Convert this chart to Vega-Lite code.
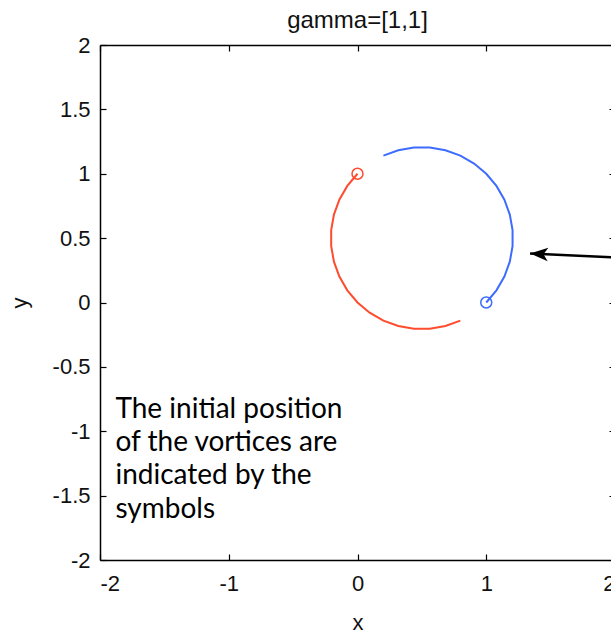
{
  "$schema": "https://vega.github.io/schema/vega-lite/v6.json",
  "width": 515,
  "height": 515,
  "autosize": {"type": "none"},
  "padding": {"left": 100, "top": 45, "right": 0, "bottom": 73},
  "background": "white",
  "title": {"text": "gamma=[1,1]", "font": "Liberation Sans", "fontSize": 24, "fontWeight": "normal", "color": "#111", "offset": 1},
  "config": {
    "view": {"stroke": null},
    "axis": {"domainColor": "#000", "domainWidth": 1.5, "tickColor": "#000", "tickWidth": 1.2, "grid": false, "labelFont": "Liberation Sans", "labelFontSize": 22, "labelColor": "#111", "titleFont": "Liberation Sans", "titleFontSize": 22, "titleFontWeight": "normal", "titleColor": "#111"}
  },
  "datasets": {
    "paths": [
      {"s": "red", "i": 0, "x": 0.0, "y": 1.0},
      {"s": "red", "i": 1, "x": -0.0792, "y": 0.9056},
      {"s": "red", "i": 2, "x": -0.1409, "y": 0.7988},
      {"s": "red", "i": 3, "x": -0.183, "y": 0.683},
      {"s": "red", "i": 4, "x": -0.2044, "y": 0.5617},
      {"s": "red", "i": 5, "x": -0.2044, "y": 0.4383},
      {"s": "red", "i": 6, "x": -0.183, "y": 0.317},
      {"s": "red", "i": 7, "x": -0.1409, "y": 0.2012},
      {"s": "red", "i": 8, "x": -0.0792, "y": 0.0944},
      {"s": "red", "i": 9, "x": 0.0, "y": 0.0},
      {"s": "red", "i": 10, "x": 0.0944, "y": -0.0792},
      {"s": "red", "i": 11, "x": 0.2012, "y": -0.1409},
      {"s": "red", "i": 12, "x": 0.317, "y": -0.183},
      {"s": "red", "i": 13, "x": 0.4383, "y": -0.2044},
      {"s": "red", "i": 14, "x": 0.5617, "y": -0.2044},
      {"s": "red", "i": 15, "x": 0.683, "y": -0.183},
      {"s": "red", "i": 16, "x": 0.7988, "y": -0.1409},
      {"s": "blue", "i": 0, "x": 1.0, "y": 0.0},
      {"s": "blue", "i": 1, "x": 1.0792, "y": 0.0944},
      {"s": "blue", "i": 2, "x": 1.1409, "y": 0.2012},
      {"s": "blue", "i": 3, "x": 1.183, "y": 0.317},
      {"s": "blue", "i": 4, "x": 1.2044, "y": 0.4383},
      {"s": "blue", "i": 5, "x": 1.2044, "y": 0.5617},
      {"s": "blue", "i": 6, "x": 1.183, "y": 0.683},
      {"s": "blue", "i": 7, "x": 1.1409, "y": 0.7988},
      {"s": "blue", "i": 8, "x": 1.0792, "y": 0.9056},
      {"s": "blue", "i": 9, "x": 1.0, "y": 1.0},
      {"s": "blue", "i": 10, "x": 0.9056, "y": 1.0792},
      {"s": "blue", "i": 11, "x": 0.7988, "y": 1.1409},
      {"s": "blue", "i": 12, "x": 0.683, "y": 1.183},
      {"s": "blue", "i": 13, "x": 0.5617, "y": 1.2044},
      {"s": "blue", "i": 14, "x": 0.4383, "y": 1.2044},
      {"s": "blue", "i": 15, "x": 0.317, "y": 1.183},
      {"s": "blue", "i": 16, "x": 0.2012, "y": 1.1409}
    ],
    "starts": [
      {"s": "red", "x": 0.0, "y": 1.0},
      {"s": "blue", "x": 1.0, "y": 0.0}
    ],
    "arrow": [
      {"x": 1.34, "y": 0.381, "x2": 2.0, "y2": 0.35}
    ],
    "note": [
      {"x": -1.88, "y": -0.895, "label": "The initial position\nof the vortices are\nindicated by the\nsymbols"}
    ]
  },
  "layer": [
    {
      "data": {"name": "paths"},
      "mark": {"type": "line", "strokeWidth": 2},
      "encoding": {
        "x": {"field": "x", "type": "quantitative", "scale": {"domain": [-2, 2], "nice": false, "zero": false},
              "axis": {"orient": "bottom", "values": [-2, -1, 0, 1, 2], "tickSize": -6, "labelPadding": 19, "labelExpr": "'' + datum.value", "title": "x", "titlePadding": 18}},
        "y": {"field": "y", "type": "quantitative", "scale": {"domain": [-2, 2], "nice": false, "zero": false},
              "axis": {"orient": "left", "values": [-2, -1.5, -1, -0.5, 0, 0.5, 1, 1.5, 2], "tickSize": -6, "labelPadding": 16, "labelExpr": "'' + datum.value", "title": "y", "titlePadding": 21}},
        "color": {"field": "s", "type": "nominal", "scale": {"domain": ["red", "blue"], "range": ["#ff4b2e", "#3d6cff"]}, "legend": null},
        "detail": {"field": "s"},
        "order": {"field": "i", "type": "quantitative"}
      }
    },
    {
      "data": {"name": "starts"},
      "mark": {"type": "point", "shape": "circle", "filled": false, "size": 121, "strokeWidth": 1.5, "opacity": 1},
      "encoding": {
        "x": {"field": "x", "type": "quantitative", "axis": {"orient": "top", "values": [-2, -1, 0, 1, 2], "tickSize": -6, "labels": false, "title": null}},
        "y": {"field": "y", "type": "quantitative", "axis": {"orient": "right", "values": [-2, -1.5, -1, -0.5, 0, 0.5, 1, 1.5, 2], "tickSize": -6, "labels": false, "title": null}},
        "color": {"field": "s", "type": "nominal", "legend": null}
      }
    },
    {
      "data": {"name": "arrow"},
      "mark": {"type": "rule", "color": "#000", "strokeWidth": 2.5},
      "encoding": {
        "x": {"field": "x", "type": "quantitative", "axis": null},
        "y": {"field": "y", "type": "quantitative", "axis": null},
        "x2": {"field": "x2"},
        "y2": {"field": "y2"}
      }
    },
    {
      "data": {"name": "arrow"},
      "mark": {"type": "point", "shape": "M0,0 L2,-0.75 L1.5,0 L2,0.75 Z", "filled": true, "color": "#000", "size": 324, "angle": 3, "opacity": 1},
      "encoding": {
        "x": {"field": "x", "type": "quantitative", "axis": null},
        "y": {"field": "y", "type": "quantitative", "axis": null}
      }
    },
    {
      "data": {"name": "note"},
      "mark": {"type": "text", "font": "Lato", "fontSize": 28, "lineBreak": "\n", "lineHeight": 33.3, "align": "left", "baseline": "alphabetic", "color": "#000"},
      "encoding": {
        "x": {"field": "x", "type": "quantitative", "axis": null},
        "y": {"field": "y", "type": "quantitative", "axis": null},
        "text": {"field": "label"}
      }
    }
  ],
  "resolve": {"axis": {"x": "independent", "y": "independent"}}
}
